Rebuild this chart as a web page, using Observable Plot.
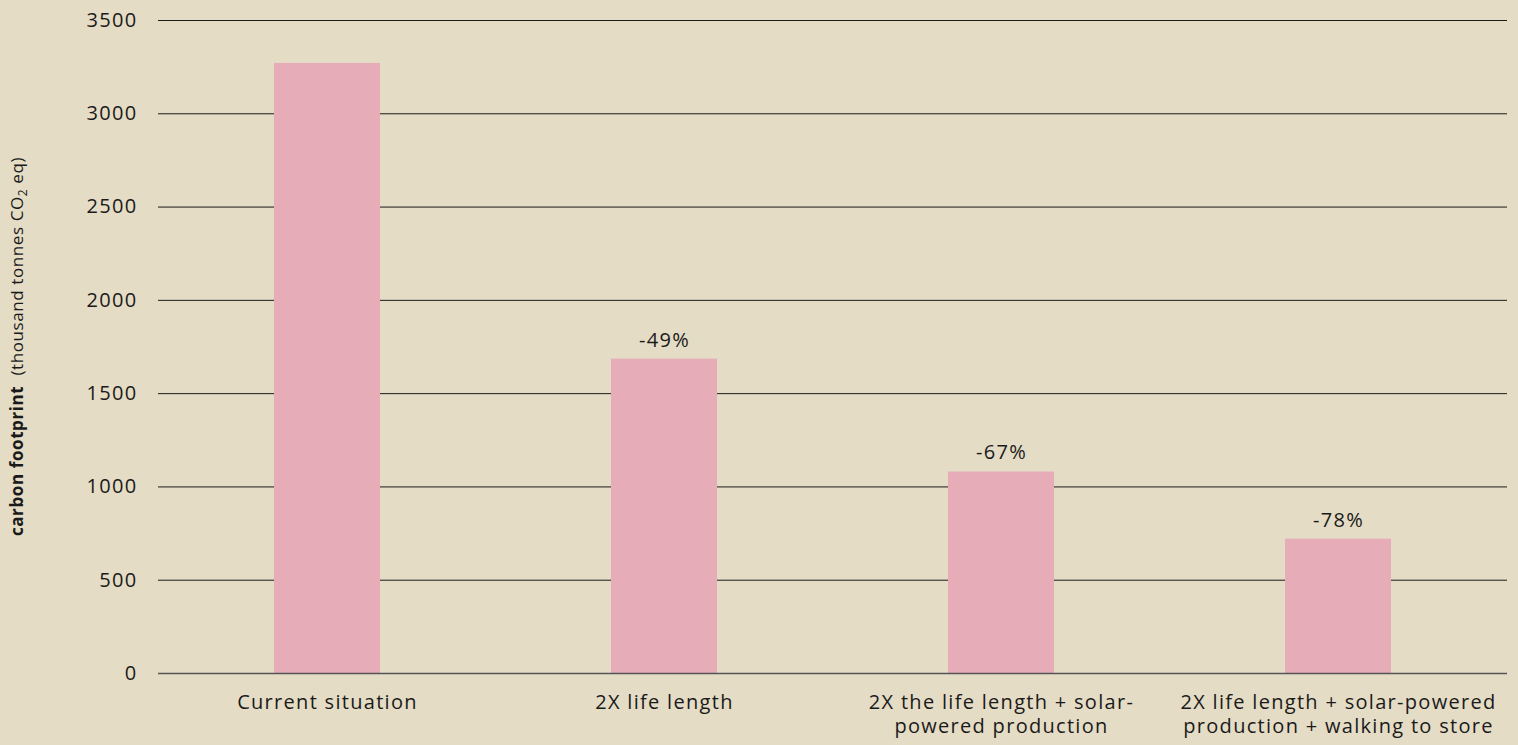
<!DOCTYPE html>
<html>
<head>
<meta charset="utf-8">
<script src="https://cdn.jsdelivr.net/npm/d3@7"></script>
<script src="https://cdn.jsdelivr.net/npm/@observablehq/plot@0.6"></script>
<style>
  html, body { margin: 0; padding: 0; background: #e5dcc5; }
  #chart svg { display: block; }
  #chart svg text { letter-spacing: 1.3px; }
  #chart svg text.ytitle { letter-spacing: 0.6px; }
</style>
</head>
<body>
<div id="chart"></div>
<script>
const categories = [
  "Current situation",
  "2X life length",
  "2X the life length + solar-\npowered production",
  "2X life length + solar-powered\nproduction + walking to store"
];
const values = [3270, 1685, 1080, 720];
const changeLabels = ["", "-49%", "-67%", "-78%"];
const yTicks = [0, 500, 1000, 1500, 2000, 2500, 3000, 3500];

const data = categories.map((c, i) => ({category: c, value: values[i], label: changeLabels[i]}));

const FONT = "'Open Sans', sans-serif";
const INK = "#1a1a1a";

const chart = Plot.plot({
  width: 1518,
  height: 745,
  marginLeft: 158,
  marginRight: 11,
  marginTop: 20,
  marginBottom: 72,
  style: {background: "#e5dcc5", fontFamily: FONT, color: INK, overflow: "visible"},
  x: {domain: categories, paddingInner: 0.686, paddingOuter: 0.343, label: null},
  y: {domain: [0, 3500], label: null},
  marks: [
    Plot.gridY(yTicks, {stroke: "#1a1a1a", strokeOpacity: 1, strokeWidth: 1}),
    Plot.barY(data, {x: "category", y: "value", fill: "#e6adb8"}),
    Plot.ruleY([0], {stroke: "#555", strokeWidth: 1.5}),
    Plot.text(data, {x: "category", y: "value", text: "label", dy: -19, fontSize: 20, fontWeight: 500, fill: INK}),
    Plot.axisY(yTicks, {tickSize: 0, tickPadding: 21, fontSize: 20, fontWeight: 500, fill: INK, label: null, tickFormat: d3.format("d")}),
    Plot.axisX({tickSize: 0, tickPadding: 18, fontSize: 20, fontWeight: 500, fill: INK, lineHeight: 1.2, label: null, textAnchor: "middle"})
  ]
});

// y-axis title with bold/regular parts and subscript
const yScale = chart.scale("y");
const yMid = (yScale.range[0] + yScale.range[1]) / 2;
const svg = d3.select(chart);
const t = svg.append("text")
  .attr("class", "ytitle")
  .attr("transform", `translate(23,${yMid}) rotate(-90)`)
  .attr("text-anchor", "middle")
  .attr("font-family", FONT)
  .attr("font-size", 17)
  .attr("fill", INK);
t.append("tspan").attr("font-weight", "bold").text("carbon footprint");
t.append("tspan").text("\u00a0 (thousand tonnes CO");
t.append("tspan").attr("font-size", 12).attr("dy", 4).text("2");
t.append("tspan").attr("dy", -4).text(" eq)");

document.getElementById("chart").appendChild(chart);
</script>
</body>
</html>
